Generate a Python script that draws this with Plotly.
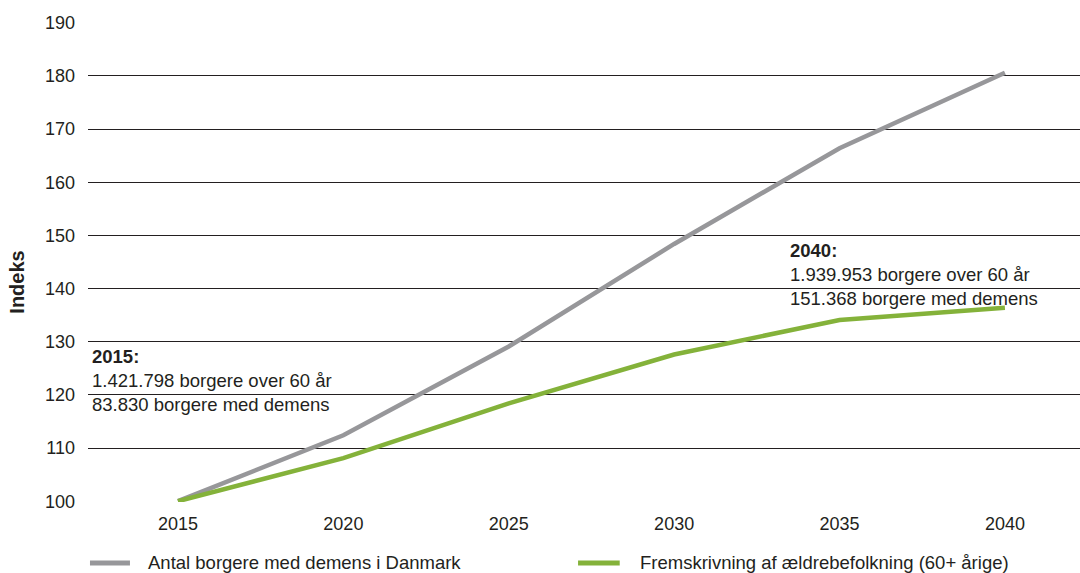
import plotly.graph_objects as go

years = [2015, 2020, 2025, 2030, 2035, 2040]
demens = [100, 112.4, 129.1, 148.4, 166.4, 180.6]
aeldre = [100, 108.1, 118.4, 127.6, 134.1, 136.4]
series_names = ["Antal borgere med demens i Danmark", "Fremskrivning af ældrebefolkning (60+ årige)"]
series_colors = ["#97979a", "#84b23a"]
y_ticks = [100, 110, 120, 130, 140, 150, 160, 170, 180, 190]

FONT = "Liberation Sans, Arial, sans-serif"
TXT = "#231f20"

fig = go.Figure()
for vals, name, col in zip([demens, aeldre], series_names, series_colors):
    fig.add_trace(go.Scatter(x=years, y=vals, mode="lines", name=name,
                             line=dict(color=col, width=4.5), showlegend=False))

# manual legend below the plot
legend_pos = [(0.002, 0.0423, 0.0585), (0.494, 0.536, 0.5545)]
for (x0, x1, xt), name, col in zip(legend_pos, series_names, series_colors):
    fig.add_shape(type="line", xref="paper", yref="paper", x0=x0, x1=x1, y0=-0.127, y1=-0.127,
                  line=dict(color=col, width=5))
    fig.add_annotation(xref="paper", yref="paper", x=xt, y=-0.127, xanchor="left", yanchor="middle",
                       showarrow=False, text=name,
                       font=dict(family=FONT, size=18.5, color=TXT))

# white boxes behind the annotation texts (hide gridlines, not the lines)
fig.add_shape(type="rect", xref="paper", yref="y", x0=0.0, x1=0.267, y0=116.5, y1=129.0,
              fillcolor="white", line=dict(width=0), layer="between")
fig.add_shape(type="rect", xref="paper", yref="y", x0=0.6976, x1=1.0, y0=138.0, y1=148.5,
              fillcolor="white", line=dict(width=0), layer="between")

fig.add_annotation(xref="paper", yref="y", x=0.002, y=129.5, xanchor="left", yanchor="top",
                   align="left", showarrow=False,
                   text="<b>2015:</b><br>1.421.798 borgere over 60 år<br>83.830 borgere med demens",
                   font=dict(family=FONT, size=18.5, color=TXT))
fig.add_annotation(xref="paper", yref="y", x=0.7057, y=149.6, xanchor="left", yanchor="top",
                   align="left", showarrow=False,
                   text="<b>2040:</b><br>1.939.953 borgere over 60 år<br>151.368 borgere med demens",
                   font=dict(family=FONT, size=18.5, color=TXT))

# y-axis title
fig.add_annotation(xref="paper", yref="paper", x=-0.0716, y=0.459, xanchor="center", yanchor="middle",
                   showarrow=False, textangle=-90, text="<b>Indeks</b>",
                   font=dict(family=FONT, size=20, color=TXT))

fig.update_layout(
    width=1080, height=573,
    margin=dict(l=88, r=0, t=22, b=71),
    paper_bgcolor="white", plot_bgcolor="white",
    font=dict(family=FONT, size=18, color=TXT),
    showlegend=False,
    xaxis=dict(range=[2012.28, 2042.27], tickvals=years, ticktext=[str(y) for y in years],
               showgrid=False, zeroline=False, showline=False, ticks="", ticklabelstandoff=9,
               tickfont=dict(family=FONT, size=18, color=TXT)),
    yaxis=dict(range=[99.85, 190.15], tickvals=y_ticks, showgrid=True, gridcolor="#231f20",
               gridwidth=1, zeroline=False, showline=False, ticks="", ticklabelstandoff=12,
               tickfont=dict(family=FONT, size=18, color=TXT)),
)

fig.write_html("out.html")
